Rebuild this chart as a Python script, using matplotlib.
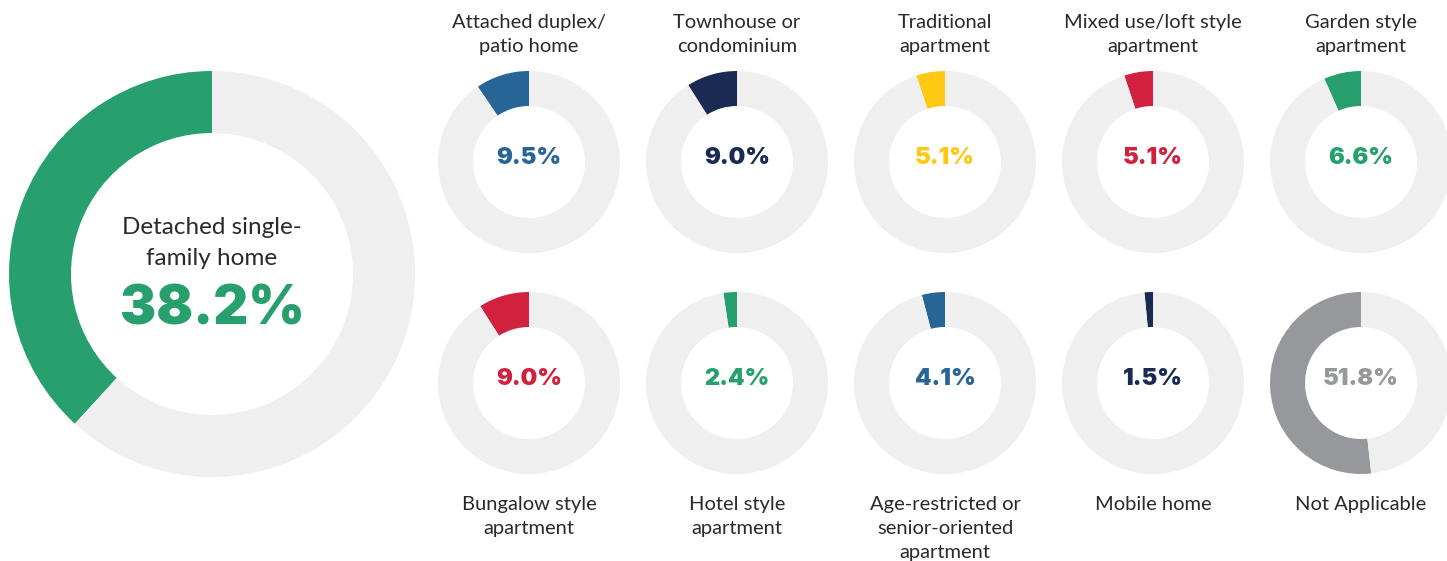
import matplotlib
matplotlib.use("Agg")
import matplotlib.pyplot as plt

W, H = 1447, 561

main_label = "Detached single-\nfamily home"
main_value = 38.2
main_color = "#27A06E"

labels = [
    "Attached duplex/\npatio home", "Townhouse or\ncondominium", "Traditional\napartment",
    "Mixed use/loft style\napartment", "Garden style\napartment",
    "Bungalow style\napartment", "Hotel style\napartment",
    "Age-restricted or\nsenior-oriented\napartment", "Mobile home", "Not Applicable",
]
values = [9.5, 9.0, 5.1, 5.1, 6.6, 9.0, 2.4, 4.1, 1.5, 51.8]
colors = ["#266595", "#1B2A52", "#FFC812", "#D2203F", "#27A06E",
          "#D2203F", "#27A06E", "#266595", "#1B2A52", "#97989C"]

TRACK = "#EFEFEF"
TEXT = "#2A2A2A"
LABEL_FONT = ["Lato", "DejaVu Sans"]
NUM_FONT = ["Inter", "DejaVu Sans"]

fig = plt.figure(figsize=(W / 100, H / 100), dpi=100)
ax = fig.add_axes([0, 0, 1, 1])

def Y(y):
    return H - y

def donut(cx, cy, r, inner, val, color):
    ax.pie([val, 100 - val], colors=[color, TRACK], startangle=90, counterclock=True,
           center=(cx, Y(cy)), radius=r,
           wedgeprops=dict(width=r - inner, linewidth=0, edgecolor="none"))

# main donut
donut(212, 274, 203, 141, main_value, main_color)
ax.text(212, Y(243), main_label, ha="center", va="center", fontsize=17.5,
        color=TEXT, family=LABEL_FONT, linespacing=1.55)
ax.text(212, Y(310), f"{main_value:.1f}%", ha="center", va="center", fontsize=39,
        color=main_color, family=NUM_FONT, fontweight=900)

xs = [529, 737, 945, 1153, 1361]
rows_y = [162, 383]
for i, (lab, v, c) in enumerate(zip(labels, values, colors)):
    row, col = divmod(i, 5)
    cx, cy = xs[col], rows_y[row]
    donut(cx, cy, 91, 56, v, c)
    ax.text(cx, Y(cy - 4), f"{v:.1f}%", ha="center", va="center", fontsize=17,
            color=c, family=NUM_FONT, fontweight=900)
    if row == 0:
        ax.text(cx, Y(34), lab, ha="center", va="center", fontsize=14.5,
                color=TEXT, family=LABEL_FONT, linespacing=1.5)
    else:
        ax.text(cx, Y(496), lab, ha="center", va="top", fontsize=14.5,
                color=TEXT, family=LABEL_FONT, linespacing=1.5)

ax.set_xlim(0, W)
ax.set_ylim(0, H)
ax.set_aspect("equal")
ax.axis("off")
fig.savefig("out.png", dpi=100)
